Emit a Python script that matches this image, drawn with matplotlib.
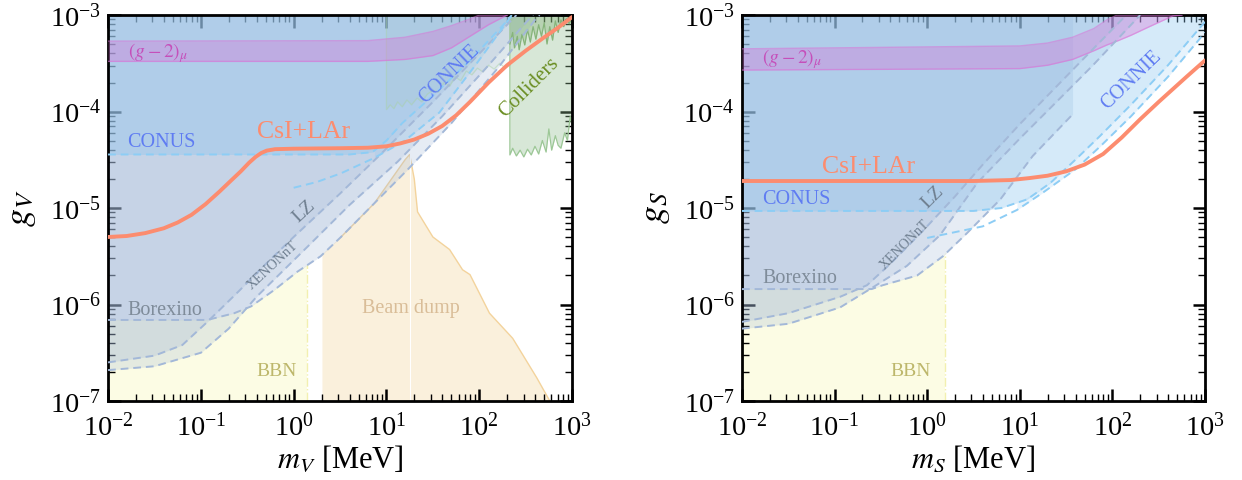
import numpy as np
import matplotlib
matplotlib.use("Agg")
import matplotlib.pyplot as plt  # noqa: E402
from matplotlib.patches import Polygon  # noqa: E402

plt.rcParams["font.family"] = ["Liberation Serif", "DejaVu Serif"]
plt.rcParams["mathtext.fontset"] = "stix"

# all curves given as log10(m / MeV), log10(g)

# ---------------- vector mediator (left panel) ----------------
csi_v_lm = [-2.0, -1.8, -1.6, -1.4, -1.25, -1.1, -0.95, -0.8, -0.68, -0.57, -0.48, -0.41, -0.35, -0.29, -0.2,
            0.0, 0.5, 0.8, 1.0, 1.15, 1.3, 1.45, 1.6, 1.75, 1.9, 2.1, 2.3, 2.5, 2.7, 2.85, 3.0]
csi_v_lg = [-5.30, -5.29, -5.26, -5.21, -5.15, -5.07, -4.96, -4.83, -4.72, -4.62, -4.53, -4.47, -4.43, -4.405,
            -4.39, -4.385, -4.38, -4.375, -4.36, -4.33, -4.29, -4.23, -4.15, -4.04, -3.90, -3.70, -3.52,
            -3.37, -3.23, -3.13, -3.02]

g2_v_lm = [-2.0, 0.8, 1.2, 1.5, 1.7, 1.9, 2.0, 2.1, 2.3]
g2_v_hi = [-3.27, -3.265, -3.23, -3.17, -3.11, -3.04, -3.0, -3.0, -3.0]
g2_v_lo = [-3.48, -3.48, -3.46, -3.42, -3.34, -3.22, -3.16, -3.10, -3.0]

conus_v_lm = [-2.0, 0.6, 0.85, 1.0, 1.17, 1.54, 1.9, 2.3, 2.35]
conus_v_lg = [-4.445, -4.445, -4.42, -4.30, -4.12, -3.80, -3.47, -3.06, -3.0]

connie_v_lm = [0.0, 0.25, 0.51, 0.87, 1.2, 1.57, 1.95, 2.33, 2.36]
connie_v_lg = [-4.79, -4.73, -4.64, -4.48, -4.30, -4.01, -3.53, -3.03, -3.0]

lz_v_lm = [-2.0, -1.5, -1.2, -0.93, -0.6, -0.3, 0.0, 0.5, 0.94, 1.5, 2.0, 2.4]
lz_v_lg = [-6.60, -6.53, -6.42, -6.18, -5.87, -5.58, -5.30, -4.85, -4.44, -3.90, -3.40, -3.0]

xenon_v_lm = [-2.0, -1.5, -1.0, -0.7, -0.4, 0.15, 0.6, 1.12, 1.6, 2.1, 2.5, 2.58]
xenon_v_lg = [-6.68, -6.64, -6.50, -6.25, -5.92, -5.40, -4.97, -4.52, -4.05, -3.52, -3.08, -3.0]

borex_v_lm = [-2.0, -0.93, -0.64, -0.46, -0.21, 0.04, 0.29, 0.51, 0.87, 1.23, 1.7, 2.2, 2.6, 2.65]
borex_v_lg = [-6.16, -6.16, -6.09, -6.02, -5.85, -5.66, -5.50, -5.30, -4.95, -4.60, -4.12, -3.55, -3.05, -3.0]

bbn_v_edge = 0.14

beam_lm = [0.31, 0.31, 0.51, 0.87, 1.20, 1.25, 1.30, 1.335, 1.50, 1.68, 1.82, 1.90, 2.11, 2.36, 2.62, 2.76]
beam_lg = [-7.0, -5.48, -5.30, -4.95, -4.50, -4.445, -4.70, -5.04, -5.30, -5.43, -5.64, -5.69, -6.09, -6.35,
           -6.76, -7.0]

# colliders: faint part below the other bounds, and the visible part at high mass
coll_lo_lm = [1.00, 1.00, 1.04, 1.08, 1.12, 1.17, 1.22, 1.27, 1.33, 1.38, 1.44, 1.50, 1.56, 1.62, 1.68, 1.74,
              1.80, 1.86, 1.92, 1.98, 2.04, 2.10, 2.16, 2.22, 2.28, 2.33]
coll_lo_lg = [-3.00, -3.98, -3.93, -3.97, -3.90, -3.95, -3.88, -3.93, -3.86, -3.90, -3.82, -3.78, -3.80, -3.70,
              -3.74, -3.64, -3.68, -3.58, -3.62, -3.55, -3.59, -3.52, -3.56, -3.50, -3.55, -3.52]
coll_hi_lm = [2.33, 2.33, 2.36, 2.40, 2.44, 2.48, 2.52, 2.56, 2.60, 2.64, 2.68, 2.72, 2.75, 2.78, 2.82, 2.85,
              2.88, 2.92, 2.95, 2.98, 3.00]
coll_hi_lg = [-3.0, -4.45, -4.38, -4.46, -4.40, -4.47, -4.39, -4.45, -4.36, -4.44, -4.30, -4.42, -4.18, -4.40,
              -4.25, -4.35, -4.38, -4.22, -4.30, -4.05, -4.15]

colltop_lm = [2.33, 2.36, 2.38, 2.41, 2.43, 2.46, 2.49, 2.52, 2.55, 2.58, 2.61, 2.64, 2.67, 2.70, 2.73,
              2.76, 2.79, 2.82, 2.85, 2.88, 2.91, 2.94, 2.97, 3.0]
colltop_lg = [-3.30, -3.18, -3.34, -3.22, -3.36, -3.20, -3.31, -3.15, -3.28, -3.12, -3.25, -3.10, -3.22,
              -3.08, -3.30, -3.12, -3.26, -3.06, -3.18, -3.05, -3.12, -3.04, -3.09, -3.03]

# ---------------- scalar mediator (right panel) ----------------
csi_s_lm = [-2.0, 0.5, 0.9, 1.1, 1.3, 1.5, 1.7, 1.9, 2.1, 2.3, 2.5, 2.65, 2.8, 3.0]
csi_s_lg = [-4.72, -4.72, -4.71, -4.69, -4.665, -4.62, -4.55, -4.44, -4.27, -4.08, -3.90, -3.77, -3.64, -3.47]

g2_s_lm = [-2.0, 1.0, 1.3, 1.57, 1.8, 1.94, 2.05, 2.2, 2.4, 2.65, 2.75]
g2_s_hi = [-3.35, -3.32, -3.29, -3.23, -3.14, -3.05, -3.0, -3.0, -3.0, -3.0, -3.0]
g2_s_lo = [-3.57, -3.555, -3.52, -3.46, -3.37, -3.31, -3.27, -3.21, -3.12, -3.01, -3.0]

conus_s_lm = [-2.0, 0.5, 0.8, 1.08, 1.33, 1.6, 1.87, 2.2, 2.6, 3.0]
conus_s_lg = [-5.03, -5.03, -5.0, -4.91, -4.74, -4.50, -4.25, -3.93, -3.52, -3.07]

connie_s_lm = [0.0, 0.3, 0.6, 0.97, 1.25, 1.6, 1.87, 2.2, 2.6, 3.0]
connie_s_lg = [-5.31, -5.25, -5.19, -5.02, -4.84, -4.60, -4.36, -4.05, -3.64, -3.18]

lz_s_lm = [-2.0, -1.5, -0.94, -0.65, -0.40, -0.05, 0.30, 0.60, 1.0, 1.65, 2.15]
lz_s_lg = [-6.18, -6.09, -5.92, -5.80, -5.58, -5.24, -4.88, -4.55, -4.13, -3.49, -3.0]

xenon_s_lm = [-2.0, -1.5, -0.94, -0.6, -0.22, 0.14, 0.54, 1.0, 1.5, 1.79, 2.3]
xenon_s_lg = [-6.25, -6.20, -6.03, -5.83, -5.60, -5.28, -4.74, -4.28, -3.80, -3.52, -3.0]

borex_s_lm = [-2.0, -0.6, -0.48, -0.11, 0.17, 0.43, 0.79, 1.14, 1.57]
borex_s_lg = [-5.84, -5.84, -5.80, -5.70, -5.50, -5.26, -4.91, -4.46, -4.03]

bbn_s_edge = 0.19

# ---------------- style ----------------
C_BLUEGRAY = "#9fb6d6"
C_SKY = "#87c4f0"
C_DASH_G = "#a3b8d8"
C_DASH_B = "#8dcdf5"
C_CSI = "#fc8c6f"
C_G2 = "orchid"
C_EXP = "#5f7cf2"
GMIN, GMAX = 1e-7, 1e-3


def lin(lm, lg):
    return 10.0 ** np.asarray(lm), 10.0 ** np.asarray(lg)


def above(ax, lm, lg, color, alpha, z=2):
    m, g = lin(lm, lg)
    ax.fill_between(m, g, GMAX, color=color, alpha=alpha, lw=0, zorder=z)


def between(ax, lo_lm, lo_lg, hi_lm, hi_lg, start, color, alpha, z=2):
    # band between the CONNIE curve and the CONUS curve, from where it leaves the other bounds
    m, lo = lin(lo_lm, lo_lg)
    hi = 10.0 ** np.interp(lo_lm, hi_lm, hi_lg)
    ax.fill_between(m, lo, np.maximum(lo, hi), where=np.asarray(lo_lm) >= start,
                    color=color, alpha=alpha, lw=0, zorder=z)


def dashed(ax, lm, lg, color, lw=1.4, z=4):
    m, g = lin(lm, lg)
    ax.plot(m, g, ls=(0, (4, 2.5)), color=color, lw=lw, zorder=z)


def bbn(ax, edge, blm, blg):
    m, g = lin(blm, blg)
    clip = Polygon(list(zip(m, g)) + [(m[-1], GMIN), (m[0], GMIN)], closed=True,
                   transform=ax.transData)
    band = ax.fill_between([1e-2, 10 ** edge], GMIN, GMAX, color="#fafad2", alpha=0.6, lw=0, zorder=1)
    band.set_clip_path(clip)
    ln, = ax.plot([10 ** edge, 10 ** edge], [GMIN, GMAX], color="#f2f0b0", lw=1.0, ls="-.", zorder=1)
    ln.set_clip_path(clip)


def g2band(ax, lm, hi, lo):
    m, h = lin(lm, hi)
    _, l = lin(lm, lo)
    ax.fill_between(m, l, h, color=C_G2, alpha=0.35, lw=0, zorder=3)
    ax.plot(m, h, color=C_G2, alpha=0.55, lw=1.0, zorder=3)
    ax.plot(m, l, color=C_G2, alpha=0.55, lw=1.0, zorder=3)


def label(ax, lm, lg, s, color, size, rot=0, ha="left"):
    ax.text(10 ** lm, 10 ** lg, s, color=color, fontsize=size, rotation=rot,
            ha=ha, va="center", rotation_mode="anchor", zorder=8)


def style(ax, xl, yl):
    ax.set_xscale("log")
    ax.set_yscale("log")
    ax.set_xlim(1e-2, 1e3)
    ax.set_ylim(GMIN, GMAX)
    for s in ax.spines.values():
        s.set_linewidth(2.0)
    ax.tick_params(which="both", direction="in", top=True, right=True, labelsize=20.5)
    ax.tick_params(which="major", length=9, width=1.8)
    ax.tick_params(which="minor", length=5, width=1.0)
    ax.tick_params(axis="x", which="major", pad=9)
    ax.tick_params(axis="y", which="major", pad=5)
    ax.set_xlabel(xl, fontsize=22, labelpad=2)
    ax.set_ylabel(yl, fontsize=26, labelpad=8)


fig = plt.figure(figsize=(12.42, 4.8), dpi=100)
axl = fig.add_axes([0.087, 0.1646, 0.3736, 0.804])
axr = fig.add_axes([0.5974, 0.1646, 0.3728, 0.804])

# ---- left: vector
ax = axl
bbn(ax, bbn_v_edge, borex_v_lm, borex_v_lg)
bm, bg = lin(beam_lm, beam_lg)
ax.fill(bm, bg, facecolor="#f5deb3", alpha=0.45, edgecolor="none", zorder=1)
ax.plot(bm[2:], bg[2:], color="#f3d39c", lw=1.0, zorder=1)
ax.plot([bm[5], bm[5]], [GMIN, bg[5]], color="white", lw=0.8, zorder=1)
above(ax, borex_v_lm, borex_v_lg, C_BLUEGRAY, 0.25)
above(ax, xenon_v_lm, xenon_v_lg, C_BLUEGRAY, 0.25)
above(ax, lz_v_lm, lz_v_lg, C_BLUEGRAY, 0.25)
above(ax, conus_v_lm, conus_v_lg, C_SKY, 0.35)
between(ax, connie_v_lm, connie_v_lg, conus_v_lm, conus_v_lg, 0.87, C_SKY, 0.22)
cm, cg = lin(coll_lo_lm, coll_lo_lg)
ax.fill_between(cm, cg, GMAX, color="#8fbc8f", alpha=0.07, lw=0, zorder=2)
ax.plot(cm, cg, color="#a9d2a3", lw=0.9, alpha=0.45, zorder=2)
cm, cg = lin(coll_hi_lm, coll_hi_lg)
ax.fill_between(cm, cg, GMAX, color="#8fbc8f", alpha=0.35, lw=0, zorder=2)
ax.plot(cm, cg, color="#9cc796", lw=0.9, zorder=2)
tm, tg = lin(colltop_lm, colltop_lg)
ax.fill_between(tm, tg, GMAX, color="#7fb070", alpha=0.35, lw=0, zorder=2)
ax.plot(tm, tg, color="#86b47a", lw=0.9, zorder=2)
g2band(ax, g2_v_lm, g2_v_hi, g2_v_lo)
dashed(ax, borex_v_lm, borex_v_lg, C_DASH_G)
dashed(ax, xenon_v_lm, xenon_v_lg, C_DASH_G)
dashed(ax, lz_v_lm, lz_v_lg, C_DASH_G)
dashed(ax, conus_v_lm, conus_v_lg, C_DASH_B)
dashed(ax, connie_v_lm, connie_v_lg, C_DASH_B)
ax.plot(*lin(csi_v_lm, csi_v_lg), color=C_CSI, lw=2.8, zorder=6, solid_capstyle="round")

label(ax, -1.79, -3.393, r"$(g-2)_\mu$", "#c54fba", 14)
label(ax, -1.79, -4.32, "CONUS", C_EXP, 14.5)
label(ax, -0.40, -4.215, "CsI+LAr", C_CSI, 18.5)
label(ax, 1.68, -3.61, "CONNIE", C_EXP, 14.5, rot=44, ha="center")
label(ax, 2.54, -3.75, "Colliders", "#6b8e23", 15, rot=45, ha="center")
label(ax, 0.114, -5.04, "LZ", "#6f7f90", 14, rot=43, ha="center")
label(ax, -0.22, -5.60, "XENONnT", "#6f7f90", 10, rot=43, ha="center")
label(ax, -1.79, -6.06, "Borexino", "#7f8c9a", 14.5)
label(ax, -0.184, -6.695, "BBN", "#bdb76b", 14, ha="center")
label(ax, 1.26, -6.04, "Beam dump", "#d9bd98", 14.5, ha="center")
style(ax, r"$m_V$ [MeV]", r"$g_V$")

# ---- right: scalar
ax = axr
bbn(ax, bbn_s_edge, borex_s_lm, borex_s_lg)
above(ax, borex_s_lm, borex_s_lg, C_BLUEGRAY, 0.25)
above(ax, xenon_s_lm, xenon_s_lg, C_BLUEGRAY, 0.25)
above(ax, lz_s_lm, lz_s_lg, C_BLUEGRAY, 0.25)
above(ax, conus_s_lm, conus_s_lg, C_SKY, 0.35)
between(ax, connie_s_lm, connie_s_lg, conus_s_lm, conus_s_lg, 0.97, C_SKY, 0.20)
g2band(ax, g2_s_lm, g2_s_hi, g2_s_lo)
dashed(ax, borex_s_lm, borex_s_lg, C_DASH_G)
dashed(ax, xenon_s_lm, xenon_s_lg, C_DASH_G)
dashed(ax, lz_s_lm, lz_s_lg, C_DASH_G)
dashed(ax, conus_s_lm, conus_s_lg, C_DASH_B)
dashed(ax, connie_s_lm, connie_s_lg, C_DASH_B)
ax.plot(*lin(csi_s_lm, csi_s_lg), color=C_CSI, lw=2.8, zorder=6, solid_capstyle="round")

label(ax, -1.78, -3.46, r"$(g-2)_\mu$", "#c54fba", 14)
label(ax, -1.136, -4.57, "CsI+LAr", C_CSI, 18.5)
label(ax, -1.78, -4.91, "CONUS", C_EXP, 14.5)
label(ax, -1.78, -5.73, "Borexino", "#7f8c9a", 14.5)
label(ax, -0.175, -6.695, "BBN", "#bdb76b", 14, ha="center")
label(ax, 0.063, -4.89, "LZ", "#6f7f90", 14, rot=45, ha="center")
label(ax, -0.24, -5.38, "XENONnT", "#6f7f90", 10, rot=45, ha="center")
label(ax, 2.21, -3.68, "CONNIE", C_EXP, 14.5, rot=44, ha="center")
style(ax, r"$m_S$ [MeV]", r"$g_S$")

fig.savefig("out.png", dpi=100)
